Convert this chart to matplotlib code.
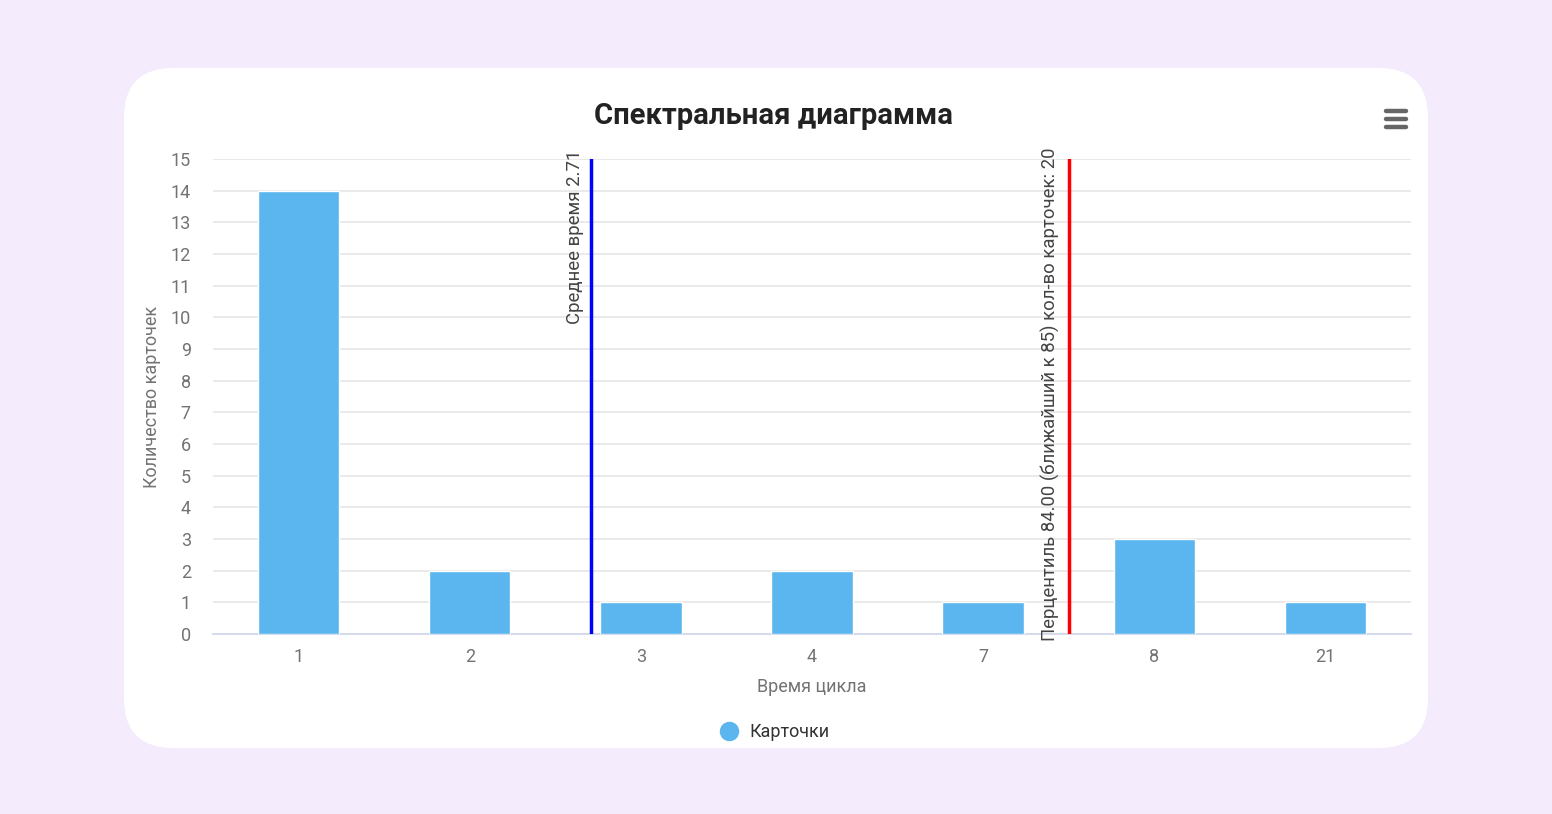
import matplotlib
matplotlib.use("Agg")
import matplotlib.pyplot as plt
from matplotlib.patches import FancyBboxPatch
from matplotlib.lines import Line2D

plt.rcParams['font.family'] = ['Roboto', 'DejaVu Sans']

categories = ["1", "2", "3", "4", "7", "8", "21"]
counts = [14, 2, 1, 2, 1, 3, 1]
y_ticks = list(range(0, 16))
mean_value = 2.71
mean_pos = 1.71          # category-axis position of mean line
pct_pos = 4.5            # category-axis position of percentile line
mean_label = "Среднее время 2.71"
pct_label = "Перцентиль 84.00 (ближайший к 85) кол-во карточек: 20"
title = "Спектральная диаграмма"
x_title = "Время цикла"
y_title = "Количество карточек"
series_name = "Карточки"

W, H = 1552, 814
fig = plt.figure(figsize=(W / 100, H / 100), dpi=100)
fig.patch.set_facecolor('#F4EBFD')

# white rounded card
card = FancyBboxPatch((124 / W, 1 - 748 / H), (1428 - 124) / W, (748 - 68) / H,
                      boxstyle="round,pad=0,rounding_size=0.032",
                      transform=fig.transFigure, facecolor='white', edgecolor='none',
                      mutation_aspect=W / H, zorder=-10)
fig.patches.append(card)

ax = fig.add_axes([213 / W, 1 - 634 / H, (1411 - 213) / W, (634 - 159) / H])
ax.set_zorder(1)
ax.set_facecolor('none')
x = list(range(len(categories)))
ax.bar(x, counts, width=0.475, color='#5BB5EE', edgecolor='white', linewidth=1, zorder=3)
ax.set_xlim(-0.5, len(categories) - 0.5)
ax.set_ylim(0, 15)
ax.set_yticks(y_ticks)
ax.set_xticks(x)
ax.set_xticklabels(categories)
ax.yaxis.grid(True, color='#e6e6e6', linewidth=1.2, zorder=0)
ax.set_axisbelow(True)
for s in ['top', 'right', 'left']:
    ax.spines[s].set_visible(False)
ax.spines['bottom'].set_color('#ccd6eb')
ax.spines['bottom'].set_linewidth(1.2)
ax.tick_params(axis='both', length=0, labelcolor='#737373', labelsize=13)
ax.tick_params(axis='x', pad=10)
ax.tick_params(axis='y', pad=16)

ax.set_xlabel(x_title, color='#737373', fontsize=13, labelpad=9)
ax.set_ylabel(y_title, color='#737373', fontsize=13, labelpad=7)

# plot lines
ax.axvline(mean_pos, color='#0000FF', linewidth=2.5, zorder=5)
ax.axvline(pct_pos, color='#FF0000', linewidth=2.5, zorder=5)
ax.annotate(mean_label, xy=(mean_pos, 1), xycoords=('data', 'axes fraction'),
            xytext=(-5.5, 7), textcoords='offset points', rotation=90,
            ha='right', va='top', color='#444444', fontsize=13.4, zorder=6,
            annotation_clip=False)
ax.annotate(pct_label, xy=(pct_pos, 1), xycoords=('data', 'axes fraction'),
            xytext=(-6.5, 8), textcoords='offset points', rotation=90,
            ha='right', va='top', color='#444444', fontsize=13.3, zorder=6,
            annotation_clip=False)

fig.text(773 / W, 1 - 116 / H, title, ha='center', va='center', fontsize=21,
         fontweight='bold', color='#222222')

# menu icon
for yy in (111, 119, 127):
    fig.add_artist(Line2D([1386 / W, 1406 / W], [1 - yy / H, 1 - yy / H],
                          color='#666666', linewidth=3.2, solid_capstyle='round'))

# legend
fig.add_artist(Line2D([729 / W], [1 - 731 / H], marker='o', markersize=13,
                      color='#5BB5EE', linestyle='none'))
fig.text(749 / W, 1 - 732 / H, series_name, ha='left', va='center', fontsize=13,
         color='#333333')

fig.savefig('out.png', dpi=100, facecolor=fig.get_facecolor())
